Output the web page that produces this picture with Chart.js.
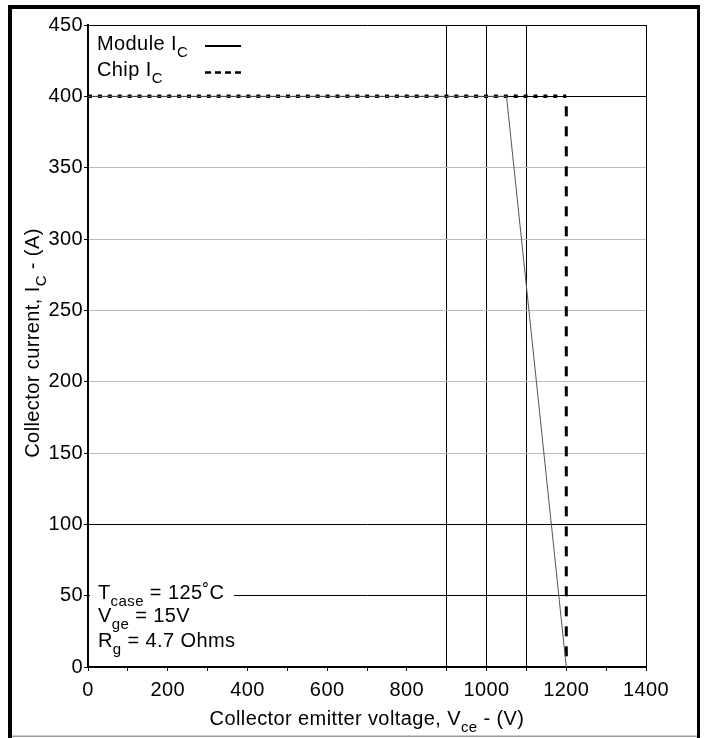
<!DOCTYPE html>
<html>
<head>
<meta charset="utf-8">
<script src="https://cdn.jsdelivr.net/npm/chart.js@4/dist/chart.umd.min.js"></script>
<style>
  html, body { margin: 0; padding: 0; background: #fff; }
  canvas { display: block; }
</style>
</head>
<body>
<canvas id="chart" width="706" height="738"></canvas>
<script>
// values
const moduleVoltage = [0, 1050, 1200];
const moduleCurrent = [400, 400, 0];
const chipVoltage = [0, 1200, 1200];
const chipCurrent = [400, 400, 0];

const xMin = 0, xMax = 1400, xStep = 100, xLabelEvery = 200;
const yMin = 0, yMax = 450, yStep = 50;
const darkGridX = [900, 1000, 1100, 1400];
const darkGridY = [50, 100, 400, 450];

const FONT = '"Liberation Sans", Arial, Helvetica, sans-serif';
const TRACKING = '0.4px';

function toPoints(xs, ys) {
  return xs.map((x, i) => ({ x: x, y: ys[i] }));
}

// text with subscripts: parts = [['Module I'], ['C', true]]
function richText(ctx, parts, x, y, align) {
  const main = '20px ' + FONT;
  const sub = '15px ' + FONT;
  const widths = parts.map((p) => {
    ctx.font = p[1] ? sub : main;
    return ctx.measureText(p[0]).width;
  });
  const total = widths.reduce((a, b) => a + b, 0);
  let cx = align === 'center' ? x - total / 2 : x;
  parts.forEach((p, i) => {
    ctx.font = p[1] ? sub : main;
    ctx.fillText(p[0], cx, p[1] ? y + 7 : y);
    cx += widths[i];
  });
  return cx;
}

const decorPlugin = {
  id: 'decor',
  beforeDraw(chart) {
    const ctx = chart.ctx;
    ctx.save();
    ctx.fillStyle = '#fff';
    ctx.fillRect(0, 0, chart.width, chart.height);
    ctx.restore();
    ctx.letterSpacing = TRACKING;
  },
  afterDraw(chart) {
    const ctx = chart.ctx;
    const area = chart.chartArea;
    ctx.save();
    ctx.letterSpacing = TRACKING;
    ctx.fillStyle = '#000';
    ctx.textAlign = 'left';
    ctx.textBaseline = 'alphabetic';

    // legend
    richText(ctx, [['Module I'], ['C', true]], 97, 50);
    richText(ctx, [['Chip I'], ['C', true]], 97, 76);
    ctx.strokeStyle = '#000';
    ctx.lineWidth = 2;
    ctx.beginPath();
    ctx.moveTo(205, 46);
    ctx.lineTo(241, 46);
    ctx.stroke();
    ctx.lineWidth = 2.5;
    ctx.setLineDash([6, 4]);
    ctx.beginPath();
    ctx.moveTo(205, 72.5);
    ctx.lineTo(241, 72.5);
    ctx.stroke();
    ctx.setLineDash([]);

    // conditions box
    ctx.fillStyle = '#fff';
    ctx.fillRect(area.left + 2, 578, 144, 82);
    ctx.fillStyle = '#000';
    richText(ctx, [['T'], ['case', true], [' = 125˚C']], 98, 599);
    richText(ctx, [['V'], ['ge', true], [' = 15V']], 98, 622);
    richText(ctx, [['R'], ['g', true], [' = 4.7 Ohms']], 98, 647);

    // axis titles
    richText(ctx, [['Collector emitter voltage, V'], ['ce', true], [' - (V)']],
      (area.left + area.right) / 2, 725, 'center');
    ctx.save();
    ctx.translate(38.5, (area.top + area.bottom) / 2 - 3);
    ctx.rotate(-Math.PI / 2);
    richText(ctx, [['Collector current, I'], ['C', true], [' - (A)']], 0, 0, 'center');
    ctx.restore();

    // outer frame
    ctx.fillStyle = '#000';
    ctx.fillRect(8, 5, 4, 733);
    ctx.fillRect(8, 5, 692, 4);
    ctx.fillRect(697, 5, 3, 733);
    ctx.fillStyle = '#999';
    ctx.fillRect(12, 735.5, 685, 1.5);
    ctx.restore();
  }
};

const tickFont = { family: FONT, size: 20 };
const chipPoints = toPoints(chipVoltage, chipCurrent);

new Chart(document.getElementById('chart'), {
  type: 'line',
  data: {
    datasets: [
      {
        label: 'Module IC',
        data: toPoints(moduleVoltage, moduleCurrent),
        borderColor: '#555',
        borderWidth: 1,
        pointRadius: 0,
        tension: 0
      },
      {
        // flat part of the chip limit
        label: 'Chip IC',
        data: chipPoints.slice(0, 2),
        borderColor: '#000',
        borderWidth: 3.5,
        borderCapStyle: 'butt',
        borderDash: [4, 5.9],
        pointRadius: 0,
        tension: 0
      },
      {
        // drop at 1200 V
        label: 'Chip IC',
        data: chipPoints.slice(1),
        borderColor: '#000',
        borderWidth: 3,
        borderCapStyle: 'butt',
        borderDash: [10, 10],
        borderDashOffset: 10,
        pointRadius: 0,
        tension: 0
      }
    ]
  },
  options: {
    responsive: false,
    devicePixelRatio: 1,
    animation: false,
    events: [],
    layout: { padding: { top: 25, right: 60, bottom: 0, left: 0 } },
    plugins: {
      legend: { display: false },
      tooltip: { enabled: false }
    },
    scales: {
      x: {
        type: 'linear',
        min: xMin,
        max: xMax,
        ticks: {
          stepSize: xStep,
          autoSkip: false,
          maxRotation: 0,
          padding: 7,
          color: '#000',
          font: tickFont,
          callback: (v) => (v % xLabelEvery === 0 ? String(v) : '')
        },
        grid: {
          color: (c) => (darkGridX.includes(c.tick.value) ? '#000' : 'rgba(0,0,0,0)'),
          lineWidth: 1,
          tickLength: 4,
          tickColor: '#000',
          tickWidth: 1
        },
        border: { color: '#000', width: 2 },
        afterFit: (s) => { s.height = 71; }
      },
      y: {
        type: 'linear',
        min: yMin,
        max: yMax,
        ticks: {
          stepSize: yStep,
          padding: 1,
          color: '#000',
          font: tickFont,
          callback: (v) => String(v)
        },
        grid: {
          color: (c) => (darkGridY.includes(c.tick.value) ? '#000' : '#bbb'),
          lineWidth: 1,
          tickLength: 4,
          tickColor: '#000',
          tickWidth: 1
        },
        border: { color: '#000', width: 2 },
        afterFit: (s) => { s.width = 88; }
      }
    }
  },
  plugins: [decorPlugin]
});
</script>
</body>
</html>
